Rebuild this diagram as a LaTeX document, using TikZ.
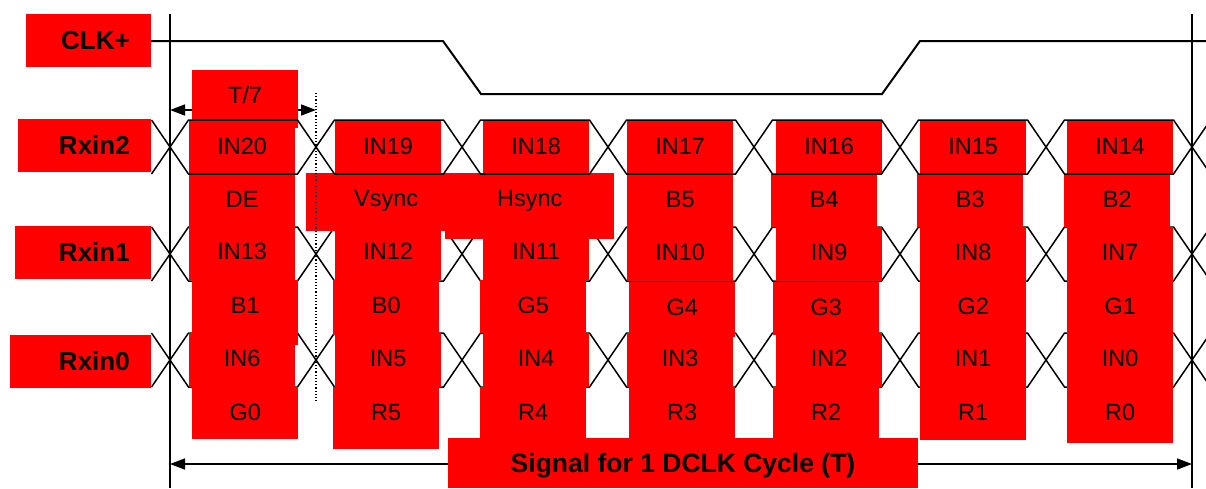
\documentclass[tikz,border=0pt]{standalone}
\usepackage{fontspec}
\setmainfont{Liberation Sans}
\usetikzlibrary{arrows.meta}
\definecolor{cellred}{RGB}{255,0,0}
\newcommand\cellfont{\fontsize{23.5}{28}\selectfont}
\newcommand\tagfont{\fontsize{26}{30}\selectfont\bfseries}
\tikzset{
  cell/.style={fill=cellred,inner sep=0pt,minimum width=106pt,anchor=north west,
    font=\cellfont,text height=33pt,text depth=#1},
  cell/.default=20pt,
  tag/.style={fill=cellred,font=\tagfont,anchor=east,inner xsep=21pt,inner ysep=0pt,
    text width=#1,align=right,minimum height=53pt,text height=18.6pt,text depth=0pt},
  span/.style={fill=cellred,font=\fontsize{26.5}{30}\selectfont\bfseries,inner sep=0pt,
    minimum width=470pt,minimum height=50pt,text height=19pt,text depth=0pt},
  wave/.style={line width=1.5pt,line join=miter},
  clkwave/.style={line width=2pt,line join=miter},
  rule/.style={line width=1.5pt},
  guide/.style={dotted,line width=1.2pt},
  dim/.style={{Triangle[length=15pt,width=11pt]}-{Triangle[length=15pt,width=11pt]},
    line width=1.5pt},
}
\begin{document}
\begin{tikzpicture}[x=1pt,y=-1pt]
  \useasboundingbox (0,0) rectangle (1206,488);

  % Rxin1 / Rxin0 eyes, under the cells
  \foreach \yc in {254,360}{
    \draw[wave] (151.5,{\yc-27}) -- (170,\yc) -- (151.5,{\yc+27});
    \draw[wave] (1210.5,{\yc-27}) -- (1192,\yc) -- (1210.5,{\yc+27});
    \foreach \k in {0,...,6}
      \draw[wave] ({170+146*\k},\yc) -- ++(18.5,-27) -- ({316+146*\k-18.5},{\yc-27})
        -- ({316+146*\k},\yc) -- ++(-18.5,27) -- ({170+146*\k+18.5},{\yc+27}) -- cycle;
  }

  % dimension arrows
  \coordinate (t7l) at (170,110);
  \coordinate (t7r) at (316,110);
  \coordinate (cyl) at (170,464);
  \coordinate (cyr) at (1192,464);
  \draw[dim] (t7l) -- (t7r);
  \draw[dim] (cyl) -- (cyr);

  % signal names
  \node[tag=83pt] (clk) at (151,40)    {CLK+};
  \node[tag=91pt] (rx2) at (151,145)   {Rxin2};
  \node[tag=94pt] (rx1) at (151,252.5) {Rxin1};
  \node[tag=99pt] (rx0) at (151,361.5) {Rxin0};

  \node[cell=25pt] (tsev) at (192,70) {T/7};

  % bit cells, one column per T/7 slot
  \node[cell]      (in20) at (189,121) {IN20};
  \node[cell]      (de)   at (189,174) {DE};
  \node[cell=21pt] (in13) at (189,226) {IN13};
  \node[cell=32pt] (b1)   at (192,280) {B1};
  \node[cell=21pt] (in6)  at (189,333) {IN6};
  \node[cell=19pt] (g0)   at (192,387) {G0};

  \node[cell]      (in19) at (335,121) {IN19};
  \node[cell=21pt] (in12) at (335,226) {IN12};
  \node[cell=22pt] (b0)   at (333,280) {B0};
  \node[cell=21pt] (in5)  at (335,333) {IN5};
  \node[cell=29pt] (r5)   at (333,387) {R5};

  \node[cell]      (in18) at (483,121) {IN18};
  \node[cell=21pt] (in11) at (483,226) {IN11};
  \node[cell]      (g5)   at (480,280) {G5};
  \node[cell=21pt] (in4)  at (483,333) {IN4};
  \node[cell=19pt] (r4)   at (480,387) {R4};

  \node[cell=25pt,minimum width=160pt] (vsync) at (306,173) {Vsync};
  \node[cell=33pt,minimum width=169pt] (hsync) at (445,173) {Hsync};

  \node[cell]      (in17) at (627,121) {IN17};
  \node[cell]      (b5)   at (627,174) {B5};
  \node[cell=21pt] (in10) at (627,227) {IN10};
  \node[cell=22pt] (g4)   at (629,282) {G4};
  \node[cell=21pt] (in3)  at (627,333) {IN3};
  \node[cell=19pt] (r3)   at (629,387) {R3};

  \node[cell]      (in16) at (776,121) {IN16};
  \node[cell]      (b4)   at (771,174) {B4};
  \node[cell=21pt] (in9)  at (776,227) {IN9};
  \node[cell]      (g3)   at (773,282) {G3};
  \node[cell=21pt] (in2)  at (776,333) {IN2};
  \node[cell=19pt] (r2)   at (773,387) {R2};

  \node[cell]      (in15) at (920,121) {IN15};
  \node[cell]      (b3)   at (917,174) {B3};
  \node[cell=21pt] (in8)  at (920,227) {IN8};
  \node[cell]      (g2)   at (920,281) {G2};
  \node[cell=21pt] (in1)  at (920,333) {IN1};
  \node[cell]      (r1)   at (920,387) {R1};

  \node[cell]      (in14) at (1067,121) {IN14};
  \node[cell]      (b2)   at (1064,174) {B2};
  \node[cell=21pt] (in7)  at (1067,227) {IN7};
  \node[cell]      (g1)   at (1067,281) {G1};
  \node[cell=21pt] (in0)  at (1067,333) {IN0};
  \node[cell=23pt] (r0)   at (1067,387) {R0};

  \node[span] (dclk) at (683,463) {Signal for 1 DCLK Cycle (T)};

  % Rxin2 eye, over the cells
  \draw[wave] (151.5,120) -- (170,147) -- (151.5,174);
  \draw[wave] (1210.5,120) -- (1192,147) -- (1210.5,174);
  \foreach \k in {0,...,6}
    \draw[wave] ({170+146*\k},147) -- ++(18.5,-27) -- ({316+146*\k-18.5},120)
      -- ({316+146*\k},147) -- ++(-18.5,27) -- ({170+146*\k+18.5},174) -- cycle;

  % clock and cycle edges
  \draw[clkwave] (clk.east |- 0,41) -- (443,41) -- (481,94) -- (882,94) -- (920,41) -- (1206,41);
  \draw[rule] (170,14) -- (170,488);
  \draw[rule] (1192,14) -- (1192,488);
  \draw[guide] (316,93) -- (316,403);
\end{tikzpicture}
\end{document}
